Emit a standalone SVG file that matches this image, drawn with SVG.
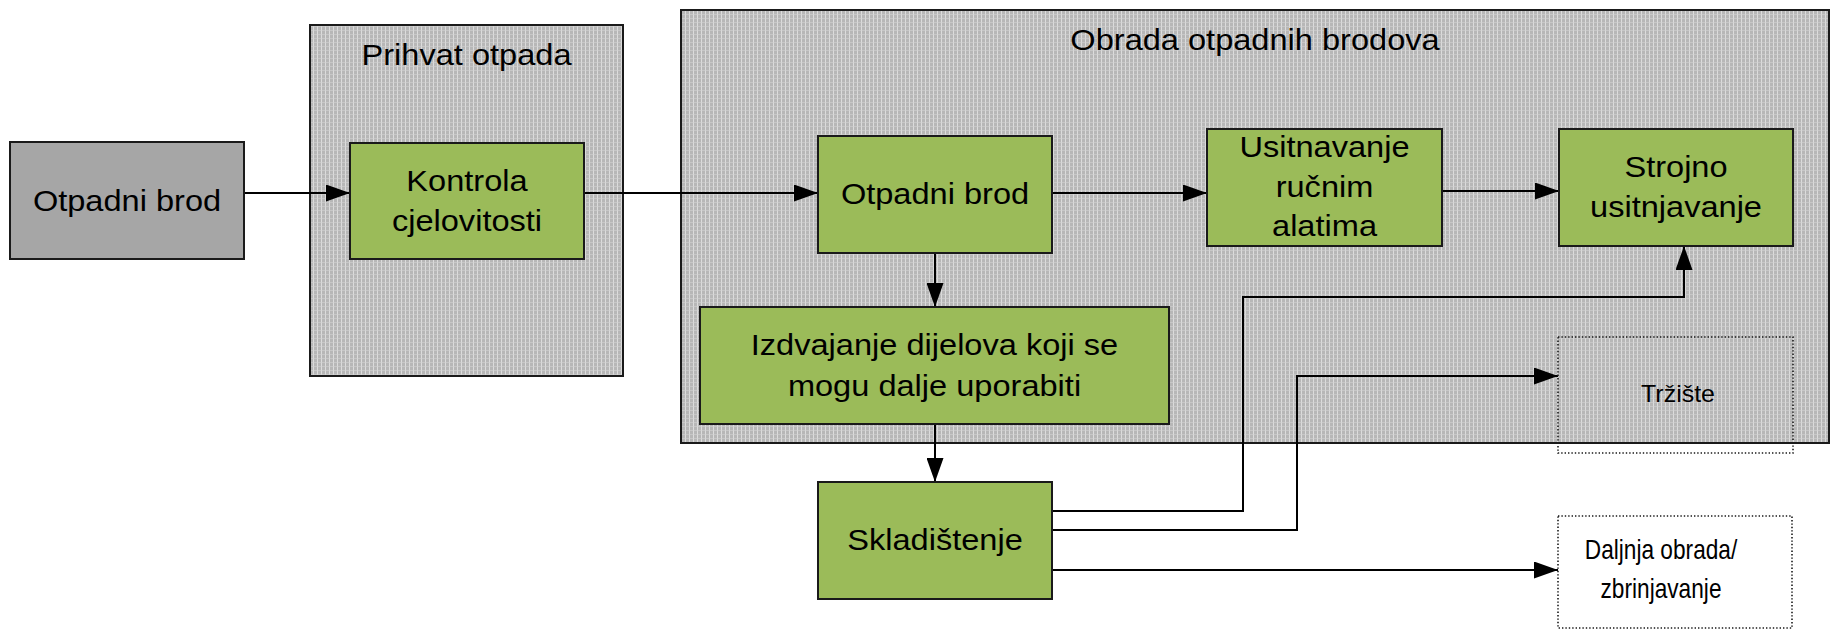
<svg xmlns="http://www.w3.org/2000/svg" width="1832" height="636" viewBox="0 0 1832 636">
  <defs>
    <!-- fine grey hatch used for the two grouping frames -->
    <pattern id="hatch" width="4" height="4" patternUnits="userSpaceOnUse">
      <rect width="4" height="4" fill="#b7b7b7"/>
      <rect x="1" width="1" height="4" fill="#dcdcdc"/>
      <rect y="2" width="4" height="1" fill="#d2d2d2" opacity="0.6"/>
    </pattern>
    <marker id="arrow" viewBox="0 0 24 17" refX="24" refY="8.5" markerWidth="24" markerHeight="17" markerUnits="userSpaceOnUse" orient="auto">
      <path d="M0,0 L24,8.5 L0,17 Z" fill="#000"/>
    </marker>
    <style>
      .frame { fill: url(#hatch); stroke: #1a1a1a; stroke-width: 2; }
      .step { fill: #9bbb59; stroke: #1a1a1a; stroke-width: 2; }
      .source { fill: #a6a6a6; stroke: #1a1a1a; stroke-width: 2; }
      .sink { fill: none; stroke: #1a1a1a; stroke-width: 1.6; stroke-dasharray: 1.4 2; }
      .sink-plain { fill: #ffffff; stroke: #1a1a1a; stroke-width: 1.6; stroke-dasharray: 1.4 2; }
      .edge { fill: none; stroke: #000; stroke-width: 2; marker-end: url(#arrow); }
      text { font-family: "Liberation Sans", Arial, sans-serif; fill: #000; text-anchor: middle; }
      .t { font-size: 30px; }
      .s { font-size: 24px; }
      .c { font-size: 27px; }
    </style>
  </defs>

  <!-- grouping frames -->
  <g id="frame-prihvat">
    <rect class="frame" x="310" y="25" width="313" height="351"/>
    <text class="t" transform="translate(466.5,65) scale(1.086,1)">Prihvat otpada</text>
  </g>
  <g id="frame-obrada">
    <rect class="frame" x="681" y="10" width="1148" height="433"/>
    <text class="t" transform="translate(1255,50) scale(1.086,1)">Obrada otpadnih brodova</text>
  </g>

  <!-- connectors -->
  <g id="connectors">
    <line class="edge" x1="244" y1="193" x2="350" y2="193"/>
    <line class="edge" x1="584" y1="193" x2="818" y2="193"/>
    <line class="edge" x1="1052" y1="193" x2="1207" y2="193"/>
    <line class="edge" x1="1442" y1="191" x2="1559" y2="191"/>
    <line class="edge" x1="935" y1="253" x2="935" y2="307"/>
    <line class="edge" x1="935" y1="424" x2="935" y2="482"/>
    <polyline class="edge" points="1052,511 1243,511 1243,297 1684,297 1684,246"/>
    <polyline class="edge" points="1052,530 1297,530 1297,376 1558,376"/>
    <line class="edge" x1="1052" y1="570" x2="1558" y2="570"/>
  </g>

  <!-- nodes -->
  <g id="node-otpadni-brod-ulaz">
    <rect class="source" x="10" y="142" width="234" height="117"/>
    <text class="t" transform="translate(127,211) scale(1.086,1)">Otpadni brod</text>
  </g>
  <g id="node-kontrola">
    <rect class="step" x="350" y="143" width="234" height="116"/>
    <text class="t" transform="translate(467,191) scale(1.086,1)">Kontrola</text>
    <text class="t" transform="translate(467,231) scale(1.086,1)">cjelovitosti</text>
  </g>
  <g id="node-otpadni-brod">
    <rect class="step" x="818" y="136" width="234" height="117"/>
    <text class="t" transform="translate(935,204) scale(1.086,1)">Otpadni brod</text>
  </g>
  <g id="node-usitnavanje">
    <rect class="step" x="1207" y="129" width="235" height="117"/>
    <text class="t" transform="translate(1324.5,157) scale(1.086,1)">Usitnavanje</text>
    <text class="t" transform="translate(1324.5,197) scale(1.086,1)">ručnim</text>
    <text class="t" transform="translate(1324.5,236) scale(1.086,1)">alatima</text>
  </g>
  <g id="node-strojno">
    <rect class="step" x="1559" y="129" width="234" height="117"/>
    <text class="t" transform="translate(1676,177) scale(1.086,1)">Strojno</text>
    <text class="t" transform="translate(1676,217) scale(1.086,1)">usitnjavanje</text>
  </g>
  <g id="node-izdvajanje">
    <rect class="step" x="700" y="307" width="469" height="117"/>
    <text class="t" transform="translate(934.5,355) scale(1.086,1)">Izdvajanje dijelova koji se</text>
    <text class="t" transform="translate(934.5,396) scale(1.086,1)">mogu dalje uporabiti</text>
  </g>
  <g id="node-trziste">
    <rect class="sink" x="1558" y="337" width="235" height="116"/>
    <text class="s" transform="translate(1678,402) scale(1.04,1)">Tržište</text>
  </g>
  <g id="node-skladistenje">
    <rect class="step" x="818" y="482" width="234" height="117"/>
    <text class="t" transform="translate(935,550) scale(1.086,1)">Skladištenje</text>
  </g>
  <g id="node-daljnja-obrada">
    <rect class="sink-plain" x="1558" y="516" width="234" height="112"/>
    <text class="c" transform="translate(1661,559) scale(0.84,1)">Daljnja obrada/</text>
    <text class="c" transform="translate(1661,598) scale(0.84,1)">zbrinjavanje</text>
  </g>
</svg>
